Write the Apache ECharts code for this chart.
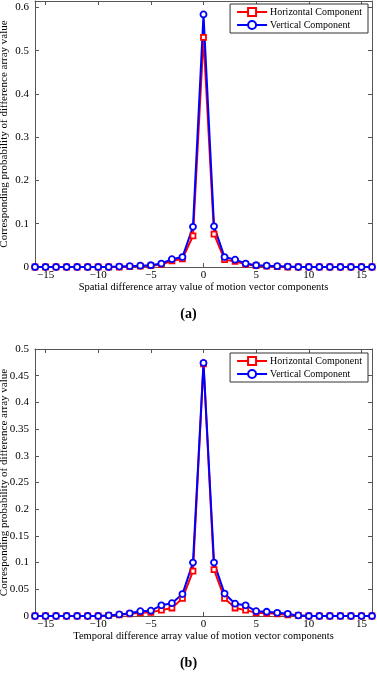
<!DOCTYPE html>
<html>
<head>
<meta charset="utf-8">
<script src="https://cdn.jsdelivr.net/npm/echarts@6/dist/echarts.min.js"></script>
<style>
html, body { margin: 0; padding: 0; background: #fff; }
#chart { width: 377px; height: 675px; }
</style>
</head>
<body>
<div id="chart"></div>
<script>
// difference array values -16 .. 16
var xValues = [-16, -15, -14, -13, -12, -11, -10, -9, -8, -7, -6, -5, -4, -3, -2, -1, 0,
	1, 2, 3, 4, 5, 6, 7, 8, 9, 10, 11, 12, 13, 14, 15, 16];
var xTicks = [-15, -10, -5, 0, 5, 10, 15];

// (a) spatial
var spatialH = [0, 0, 0, 0, 0, 0, 0, 0, 0, 0.001, 0.002, 0.003, 0.006, 0.014, 0.019, 0.072, 0.531,
	0.076, 0.017, 0.013, 0.006, 0.003, 0.002, 0.001, 0, 0, 0, 0, 0, 0, 0, 0, 0];
var spatialV = [0, 0, 0, 0, 0, 0, 0, 0, 0.001, 0.002, 0.003, 0.004, 0.008, 0.018, 0.023, 0.093, 0.584,
	0.094, 0.023, 0.017, 0.008, 0.004, 0.003, 0.002, 0.001, 0, 0, 0, 0, 0, 0, 0, 0];
var spatialTicks = [0, 0.1, 0.2, 0.3, 0.4, 0.5, 0.6];

// (b) temporal
var temporalH = [0, 0, 0, 0, 0, 0, 0, 0.001, 0.002, 0.004, 0.006, 0.007, 0.011, 0.015, 0.033, 0.084, 0.472,
	0.087, 0.033, 0.015, 0.011, 0.006, 0.005, 0.004, 0.002, 0.001, 0, 0, 0, 0, 0, 0, 0];
var temporalV = [0, 0, 0, 0, 0, 0, 0, 0.001, 0.003, 0.005, 0.009, 0.010, 0.020, 0.024, 0.041, 0.100, 0.474,
	0.100, 0.042, 0.023, 0.020, 0.009, 0.008, 0.006, 0.004, 0.001, 0, 0, 0, 0, 0, 0, 0];
var temporalTicks = [0, 0.05, 0.1, 0.15, 0.2, 0.25, 0.3, 0.35, 0.4, 0.45, 0.5];

var names = ['Horizontal Component', 'Vertical Component'];
var yName = 'Corresponding probability of difference array value';
var font = "'Liberation Serif', 'DejaVu Serif', serif";
var axisColor = '#555';

function pairs(ys) {
	return xValues.map(function(x, i) {
		return [x, ys[i]];
	});
}

function fmtMinus(v) {
	return String(v).replace('-', '\u2212');
}

function xAxes(gridIndex, title) {
	return [{
		type : 'value',
		gridIndex : gridIndex,
		min : -16,
		max : 16,
		name : title,
		nameLocation : 'middle',
		nameGap : 15,
		nameMoveOverlap : false,
		nameTextStyle : { fontFamily : font, fontSize : 10.5, color : '#000' },
		axisLine : { show : true, onZero : false, lineStyle : { color : axisColor } },
		axisTick : { show : true, inside : true, length : 4, customValues : xTicks, lineStyle : { color : axisColor } },
		axisLabel : { customValues : xTicks, formatter : fmtMinus, fontFamily : font, fontSize : 11, color : '#000', margin : 3 },
		splitLine : { show : false }
	}, {
		type : 'value',
		gridIndex : gridIndex,
		position : 'top',
		min : -16,
		max : 16,
		axisLine : { show : true, onZero : false, lineStyle : { color : axisColor } },
		axisTick : { show : true, inside : true, length : 4, customValues : xTicks, lineStyle : { color : axisColor } },
		axisLabel : { show : false },
		splitLine : { show : false }
	}];
}

function yAxes(gridIndex, max, ticks) {
	return [{
		type : 'value',
		gridIndex : gridIndex,
		min : 0,
		max : max,
		name : yName,
		nameLocation : 'middle',
		nameGap : 25,
		nameMoveOverlap : false,
		nameTextStyle : { fontFamily : font, fontSize : 11, color : '#000' },
		axisLine : { show : true, onZero : false, lineStyle : { color : axisColor } },
		axisTick : { show : true, inside : true, length : 4, customValues : ticks, lineStyle : { color : axisColor } },
		axisLabel : { customValues : ticks, fontFamily : font, fontSize : 11, color : '#000', margin : 6 },
		splitLine : { show : false }
	}, {
		type : 'value',
		gridIndex : gridIndex,
		position : 'right',
		min : 0,
		max : max,
		axisLine : { show : true, onZero : false, lineStyle : { color : axisColor } },
		axisTick : { show : true, inside : true, length : 4, customValues : ticks, lineStyle : { color : axisColor } },
		axisLabel : { show : false },
		splitLine : { show : false }
	}];
}

function series(xi, yi, hData, vData) {
	return [{
		name : names[0],
		type : 'line',
		xAxisIndex : xi,
		yAxisIndex : yi,
		data : pairs(hData),
		symbol : 'rect',
		symbolSize : 5,
		lineStyle : { color : '#ff0000', width : 2 },
		itemStyle : { color : '#fff', borderColor : '#ff0000', borderWidth : 1.8 },
		emphasis : { disabled : true }
	}, {
		name : names[1],
		type : 'line',
		xAxisIndex : xi,
		yAxisIndex : yi,
		data : pairs(vData),
		symbol : 'circle',
		symbolSize : 6,
		lineStyle : { color : '#0000ff', width : 2 },
		itemStyle : { color : '#fff', borderColor : '#0000ff', borderWidth : 1.8 },
		emphasis : { disabled : true }
	}];
}

function legend(top) {
	return {
		data : names,
		orient : 'vertical',
		right : 9,
		top : top,
		padding : [3, 6, 3, 6],
		itemGap : 3,
		itemWidth : 30,
		itemHeight : 10,
		backgroundColor : '#fff',
		borderColor : '#333',
		borderWidth : 1,
		borderRadius : 0,
		selectedMode : false,
		textStyle : { fontFamily : font, fontSize : 10, color : '#000', padding : [0, 0, 0, -2] }
	};
}

var chart = echarts.init(document.getElementById('chart'), null, { renderer : 'canvas' });

var option = {
	animation : false,
	backgroundColor : '#fff',
	grid : [
		{ left : 35, top : 1, width : 337, height : 266, outerBoundsMode : 'none', containLabel : false },
		{ left : 35, top : 349, width : 337, height : 267, outerBoundsMode : 'none', containLabel : false }
	],
	xAxis : xAxes(0, 'Spatial difference array value of motion vector components')
		.concat(xAxes(1, 'Temporal difference array value of motion vector components')),
	yAxis : yAxes(0, 0.615, spatialTicks).concat(yAxes(1, 0.5, temporalTicks)),
	legend : [legend(4), legend(353)],
	title : [
		{ text : '(a)', left : 'center', top : 302, textStyle : { fontFamily : font, fontSize : 14, fontWeight : 'bold', color : '#000' } },
		{ text : '(b)', left : 'center', top : 651, textStyle : { fontFamily : font, fontSize : 14, fontWeight : 'bold', color : '#000' } }
	],
	series : series(0, 0, spatialH, spatialV).concat(series(2, 2, temporalH, temporalV))
};

chart.setOption(option);
</script>
</body>
</html>
